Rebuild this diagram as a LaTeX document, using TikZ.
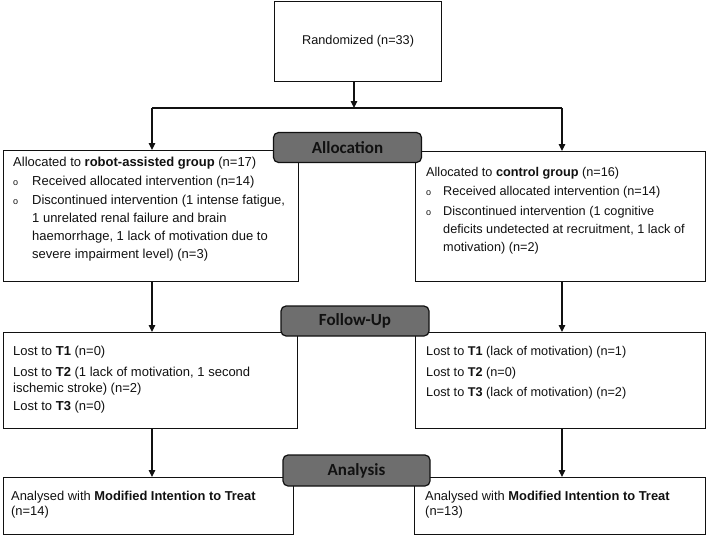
\documentclass[tikz,border=0pt]{standalone}
\usepackage{fontspec}
\setmainfont{Liberation Sans}
\newfontfamily\bannerfont{Carlito}
\usetikzlibrary{arrows.meta}
\definecolor{bannergrey}{HTML}{6E6E6E}
\definecolor{ink}{HTML}{111111}
\begin{document}
\begin{tikzpicture}[x=1pt,y=-1pt,
  box/.style={draw=ink,line width=1.2pt,rectangle,inner sep=0pt,anchor=north west},
  banner/.style={draw=ink,line width=1.2pt,fill=bannergrey,rounded corners=5pt,
    minimum width=148pt,minimum height=30pt,inner sep=0pt,
    font=\bannerfont\bfseries\fontsize{17}{20}\selectfont,text=ink},
  txt/.style={inner sep=0pt,anchor=base west,text=ink,
    font=\fontsize{12.7}{15}\selectfont},
  ltxt/.style={txt,font=\fontsize{13.0}{15}\selectfont},
  antxt/.style={txt,font=\fontsize{12.9}{15}\selectfont},
  bul/.style={inner sep=0pt,anchor=base west,text=ink,font=\fontsize{9}{10}\selectfont},
  arr/.style={draw=ink,line width=1.2pt,-{Triangle[length=7pt,width=6.5pt]}},
  con/.style={draw=ink,line width=1.2pt}]
\useasboundingbox (0,0) rectangle (709,535);

% boxes
\node[box,minimum width=167pt,minimum height=80pt,font=\fontsize{12.7}{15}\selectfont,text=ink] (rand) at (274,1) {Randomized (n=33)};
\node[box,minimum width=295pt,minimum height=131pt] (lalloc) at (3,150) {};
\node[box,minimum width=290pt,minimum height=130pt] (ralloc) at (415,151) {};
\node[box,minimum width=294pt,minimum height=96pt] (lfu) at (3,332) {};
\node[box,minimum width=290pt,minimum height=96pt] (rfu) at (415,332) {};
\node[box,minimum width=290pt,minimum height=57pt] (lan) at (3,477) {};
\node[box,minimum width=291pt,minimum height=57pt] (ran) at (414,477) {};

% left allocation text
\node[ltxt] (la1) at (13,166.5) {Allocated to \textbf{robot-assisted group} (n=17)};
\node[bul] (lb1) at (13,185.5) {o};
\node[ltxt] (la2) at (32,185.5) {Received allocated intervention (n=14)};
\node[bul] (lb2) at (13,204.5) {o};
\node[ltxt] (la3a) at (32,204.5) {Discontinued intervention (1 intense fatigue,};
\node[ltxt] (la3b) at (32,222.5) {1 unrelated renal failure and brain};
\node[ltxt] (la3c) at (32,240.5) {haemorrhage, 1 lack of motivation due to};
\node[ltxt] (la3d) at (32,258.5) {severe impairment level) (n=3)};

% right allocation text
\node[txt] (ra1) at (426,176.5) {Allocated to \textbf{control group} (n=16)};
\node[bul] (rb1) at (426,195.5) {o};
\node[txt] (ra2) at (443,195.5) {Received allocated intervention (n=14)};
\node[bul] (rb2) at (426,215) {o};
\node[txt] (ra3a) at (443,215) {Discontinued intervention (1 cognitive};
\node[txt] (ra3b) at (443,233) {deficits undetected at recruitment, 1 lack of};
\node[txt] (ra3c) at (443,251) {motivation) (n=2)};

% left follow-up text
\node[ltxt] (lf1) at (13,355.5) {Lost to \textbf{T1} (n=0)};
\node[ltxt] (lf2a) at (13,376.5) {Lost to \textbf{T2} (1 lack of motivation, 1 second};
\node[ltxt] (lf2b) at (13,392.5) {ischemic stroke) (n=2)};
\node[ltxt] (lf3) at (13,410.5) {Lost to \textbf{T3} (n=0)};

% right follow-up text
\node[txt] (rf1) at (426,355.5) {Lost to \textbf{T1} (lack of motivation) (n=1)};
\node[txt] (rf2) at (426,376.5) {Lost to \textbf{T2} (n=0)};
\node[txt] (rf3) at (426,396.5) {Lost to \textbf{T3} (lack of motivation) (n=2)};

% analysis text
\node[antxt] (lt1) at (11,500.5) {Analysed with \textbf{Modified Intention to Treat}};
\node[antxt] (lt2) at (11,515) {(n=14)};
\node[antxt] (rt1) at (425,500.5) {Analysed with \textbf{Modified Intention to Treat}};
\node[antxt] (rt2) at (425,515) {(n=13)};

% connectors
\coordinate (split) at (354,108);
\coordinate (splitL) at (152,108);
\coordinate (splitR) at (562,108);
\draw[arr] (rand.south -| split) -- (split);
\draw[con] (splitL) -- (splitR);
\draw[arr] (splitL) -- (splitL |- lalloc.north);
\draw[arr] (splitR) -- (splitR |- ralloc.north);
\draw[arr] (splitL |- lalloc.south) -- (splitL |- lfu.north);
\draw[arr] (splitR |- ralloc.south) -- (splitR |- rfu.north);
\draw[arr] (splitL |- lfu.south) -- (splitL |- lan.north);
\draw[arr] (splitR |- rfu.south) -- (splitR |- ran.north);

% banners
\node[banner] (alloc) at (347.5,147.5) {Allocation};
\node[banner] (fu) at (355,321) {Follow-Up};
\node[banner,minimum width=147pt,minimum height=31pt] (an) at (356.5,470.5) {Analysis};
\end{tikzpicture}
\end{document}
